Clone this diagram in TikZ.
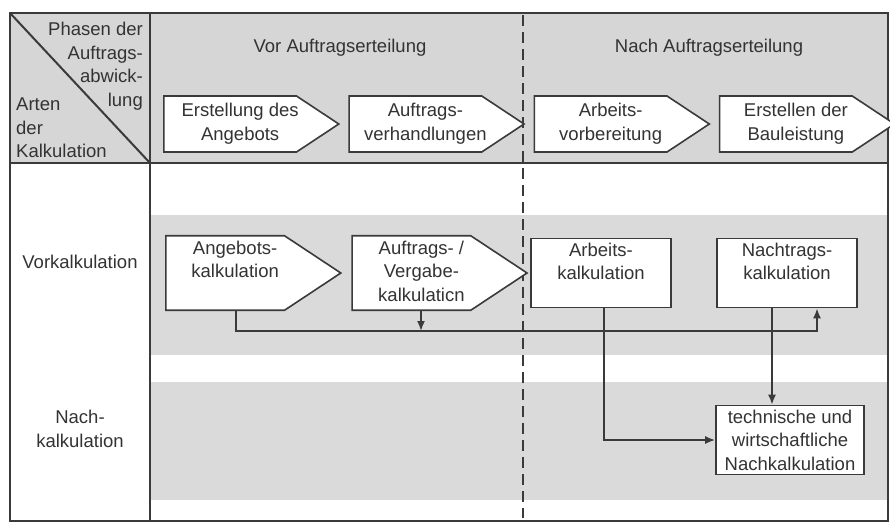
\documentclass[tikz,border=0pt]{standalone}
\usepackage{fontspec}
\setmainfont{Liberation Sans}
\usetikzlibrary{arrows.meta,positioning,shapes.symbols}
\definecolor{headgray}{HTML}{D6D6D6}
\definecolor{bandgray}{HTML}{DADADA}
\definecolor{linegray}{HTML}{3A3A3A}
\definecolor{txtgray}{HTML}{333333}
% Text im Pfeil etwas nach rechts ruecken
\newcommand{\pfeiltext}[1]{\hspace*{10pt}\begin{tabular}{@{}c@{}}#1\end{tabular}\hspace*{-10pt}}

\begin{document}
\begin{tikzpicture}[
    x=1pt, y=-1pt,
    font=\fontsize{18.5}{23.5}\selectfont, text=txtgray,
    frame/.style={draw=linegray, line width=2.6pt},
    phase/.style={draw=linegray, line width=1.6pt, fill=white, shape=signal, signal to=east, signal pointer angle=67, minimum width=175pt, minimum height=56pt, inner sep=2pt},
    calcA/.style={phase, minimum height=69pt},
    calcB/.style={draw=linegray, line width=1.6pt, fill=white, minimum width=140pt, minimum height=69pt, inner sep=2pt, align=center},
    conn/.style={-{Latex[length=10pt,width=8pt]}, draw=linegray, line width=1.8pt}
  ]
    \useasboundingbox (0,0) rectangle (890,523);
    % Hintergrund
    \fill[headgray] (10,13) rectangle (888,163);
    \fill[bandgray] (151,215) rectangle (887,355);
    \fill[bandgray] (151,382) rectangle (887,500);
    \draw[frame] (10,13) rectangle (888,521);
    \draw[frame] (150,13) -- (150,521);
    \draw[frame] (10,163) -- (888,163);
    \draw[draw=linegray, line width=2pt] (10,13) -- (150,163);
    \draw[draw=linegray, line width=2.4pt, dash pattern=on 11pt off 6pt] (523,15) -- (523,518);

    % Kopfzeile
    \node[anchor=north east, align=right, inner sep=0pt] (phasen) at (143,22) {Phasen der\\Auftrags-\\abwick-\\lung};
    \node[anchor=south west, align=left, inner sep=0pt] (arten) at (16,158) {Arten\\der\\Kalkulation};
    \node (vor) at (340,48) {Vor Auftragserteilung};
    \node (nach) at (709,48) {Nach Auftragserteilung};

    \node[phase, anchor=west] (p1) at (163,124) {\pfeiltext{Erstellung des\\Angebots}};
    \node[phase, right=8pt of p1] (p2) {\pfeiltext{Auftrags-\\verhandlungen}};
    \node[phase, right=8pt of p2] (p3) {\pfeiltext{Arbeits-\\vorbereitung}};
    \node[phase, right=8pt of p3] (p4) {\pfeiltext{Erstellen der\\Bauleistung}};

    % Zeilenköpfe
    \node (vk) at (80,262) {Vorkalkulation};
    \node[align=center] (nk) at (80,429) {Nach-\\kalkulation};

    % Kalkulationsarten
    \node[calcA, anchor=west] (angebot) at (165,273) {\pfeiltext{Angebots-\\kalkulation\\\mbox{}}};
    \node[calcA, right=9pt of angebot] (vergabe) {\pfeiltext{Auftrags- /\\Vergabe-\\kalkulaticn}};
    \node[calcB] (arbeit) at (601,273) {Arbeits-\\kalkulation\\\mbox{}};
    \node[calcB] (nachtrag) at (787,273) {Nachtrags-\\kalkulation\\\mbox{}};
    \node[calcB, minimum width=148pt] (nachkalk) at (790,440) {technische und\\wirtschaftliche\\Nachkalkulation};

    \coordinate (busL) at (236,331);
    \coordinate (busM) at (421,331);
    \coordinate (busR) at (817,331);
    \draw[conn] (angebot.south -| busL) -- (busL) -- (busR) -- (nachtrag.south -| busR);
    \draw[conn] (vergabe.south -| busM) -- (busM);
    \draw[conn] ([xshift=3pt]arbeit.south) |- (nachkalk.west);
    \draw[conn] ([xshift=-15pt]nachtrag.south) -- ([xshift=-15pt]nachtrag.south |- nachkalk.north);
  \end{tikzpicture}
\end{document}
